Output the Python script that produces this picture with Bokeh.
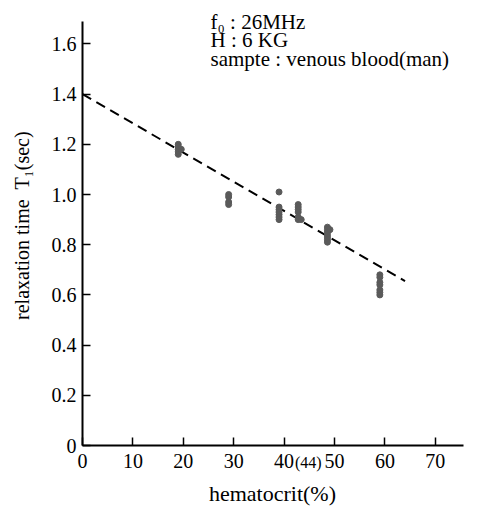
import math
from bokeh.plotting import figure
from bokeh.models import Range1d, FixedTicker, Label
from bokeh.embed import file_html
from bokeh.resources import INLINE

# data
hematocrit = [19, 19, 19, 19, 19, 19.6,
              29, 29, 29, 29,
              39, 39, 39, 39, 39, 39, 39,
              42.8, 42.8, 42.8, 42.8, 42.8, 42.8, 43.4,
              48.6, 48.6, 48.6, 48.6, 48.6, 48.6, 48.6, 49.1,
              59, 59, 59, 59, 59, 59, 59]
t1 = [1.20, 1.19, 1.18, 1.17, 1.16, 1.18,
      1.00, 0.99, 0.97, 0.96,
      1.01, 0.95, 0.94, 0.93, 0.92, 0.91, 0.90,
      0.96, 0.95, 0.94, 0.93, 0.91, 0.90, 0.90,
      0.87, 0.86, 0.85, 0.84, 0.83, 0.82, 0.81, 0.86,
      0.68, 0.67, 0.65, 0.64, 0.62, 0.61, 0.60]
fit_x = [0, 64]
fit_t1 = [1.40, 0.655]

x_ticks = [0, 10, 20, 30, 40, 50, 60, 70]
y_ticks = [0, 0.2, 0.4, 0.6, 0.8, 1.0, 1.2, 1.4, 1.6]
y_tick_labels = ["0", "0.2", "0.4", "0.6", "0.8", "1.0", "1.2", "1.4", "1.6"]
notes = ["f\u2080 : 26MHz", "H :  6 KG", "sampte : venous blood(man)"]

FONT = "Liberation Serif"

p = figure(width=494, height=508, output_backend="svg", toolbar_location=None,
           x_range=Range1d(-16.27, 81.75), y_range=Range1d(-0.251, 1.773),
           min_border_left=0, min_border_right=0, min_border_top=0, min_border_bottom=0)
p.outline_line_color = None
p.xgrid.visible = False
p.ygrid.visible = False
p.background_fill_color = "white"
p.border_fill_color = "white"

for ax in (p.xaxis[0], p.yaxis[0]):
    ax.fixed_location = 0
    ax.axis_line_width = 2
    ax.axis_line_color = "black"
    ax.major_tick_in = 8
    ax.major_tick_out = 0
    ax.major_tick_line_width = 1.5
    ax.major_tick_line_color = "black"
    ax.minor_tick_line_color = None
    ax.major_label_text_font = FONT
    ax.major_label_text_font_size = "20px"
    ax.major_label_text_color = "black"

p.xaxis.bounds = (0, 75.6)
p.yaxis.bounds = (0, 1.69)
p.xaxis.ticker = FixedTicker(ticks=x_ticks)
p.yaxis.ticker = FixedTicker(ticks=y_ticks)
p.yaxis.major_label_overrides = {t: s for t, s in zip(y_ticks, y_tick_labels)}
p.xaxis.major_label_standoff = 8
p.yaxis.major_label_standoff = 6

p.line(fit_x, fit_t1, line_color="black", line_width=2, line_dash="10 6")
p.scatter(hematocrit, t1, size=6, color="#5a5a5a")

# axis titles
p.add_layout(Label(x=37.7, y=-0.193, text="hematocrit(%)", text_font=FONT, text_font_size="22px",
                   text_align="center", text_baseline="middle", text_color="black"))
p.add_layout(Label(x=-12.0, y=0.876, text="relaxation time \u00a0T\u2081(sec)", angle=math.pi / 2,
                   text_font=FONT, text_font_size="20px",
                   text_align="center", text_baseline="middle", text_color="black"))

p.add_layout(Label(x=44.8, y=-0.068, text="(44)", text_font=FONT, text_font_size="16px",
                   text_align="center", text_baseline="middle", text_color="black"))

for i, s in enumerate(notes):
    p.add_layout(Label(x=25.4, y=1.689 - i * 0.074, text=s, text_font=FONT, text_font_size="21px",
                       text_align="left", text_baseline="middle", text_color="black"))

open("out.html", "w").write(file_html(p, INLINE))
